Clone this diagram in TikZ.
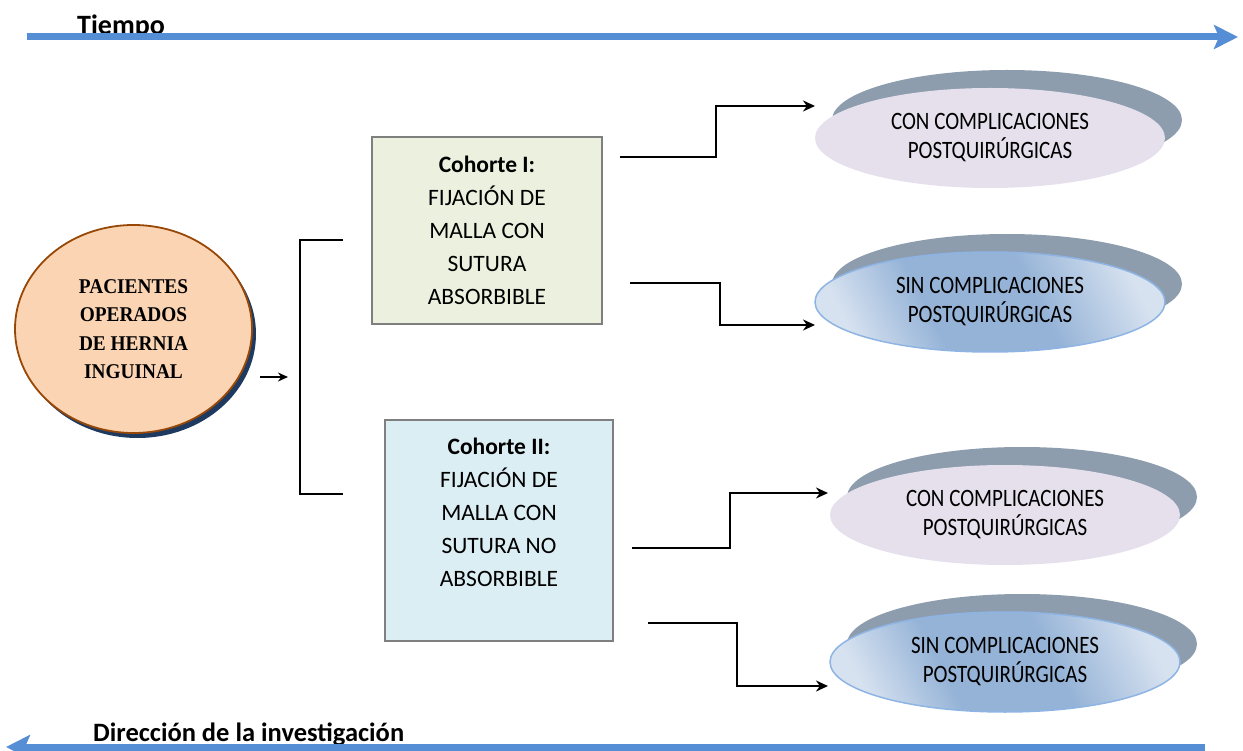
\documentclass[tikz,border=0pt]{standalone}
\usepackage{fontspec}
\setmainfont{Carlito}
\newfontfamily\pacfont[FakeStretch=0.92]{Liberation Serif}
\newfontfamily\outcomefont[FakeStretch=0.84]{Carlito}
\usetikzlibrary{arrows.meta,positioning,shapes.geometric,shadows}
\definecolor{timeblue}{HTML}{558ED5}
\definecolor{pacpeach}{HTML}{FBD4B4}
\definecolor{pacbrown}{HTML}{984806}
\definecolor{pacnavy}{HTML}{1F3A60}
\definecolor{boxgray}{HTML}{7F7F7F}
\definecolor{cohortone}{HTML}{EBF1DE}
\definecolor{cohorttwo}{HTML}{DBEEF4}
\definecolor{conlilac}{HTML}{E5E0EC}
\definecolor{shadowgray}{HTML}{8D9DAE}
\definecolor{sinlight}{HTML}{D7E2F0}
\definecolor{sindark}{HTML}{95B3D7}
\definecolor{sinedge}{HTML}{8EB4E3}
\pgfdeclareverticalshading{sinshade}{100bp}{color(0bp)=(sinlight); color(24bp)=(sinlight); color(39bp)=(sindark); color(58bp)=(sindark); color(76bp)=(sinlight); color(100bp)=(sinlight)}
\tikzset{
  patients/.style={ellipse,draw=pacbrown,line width=1.8pt,fill=pacpeach,minimum width=237pt,minimum height=208pt,inner sep=0pt,align=center,font=\pacfont\bfseries\fontsize{21}{28.5}\selectfont,general shadow={fill=pacnavy,shadow xshift=4pt,shadow yshift=-5pt}},
  cohort/.style={rectangle,draw=boxgray,line width=1.8pt,minimum width=230pt},
  cohorttext/.style={align=center,inner sep=0pt,font=\fontsize{23.5}{33}\selectfont},
  outcome/.style={ellipse,minimum width=350pt,minimum height=100pt,inner sep=0pt,align=center,font=\outcomefont\fontsize{25}{29}\selectfont,general shadow={fill=shadowgray,shadow xshift=17pt,shadow yshift=18pt}},
  withcomp/.style={outcome,fill=conlilac},
  nocomp/.style={outcome,draw=sinedge,line width=1.5pt,shading=sinshade,shading angle=-63},
  arrow/.style={-{Stealth[length=12pt,width=11pt]},line width=2pt,black},
  timearrow/.style={-{Stealth[length=24pt,width=24pt,inset=5pt]},line width=7pt,timeblue},
  axislabel/.style={anchor=base west,inner sep=0pt,font=\bfseries\fontsize{27}{30}\selectfont}
}
\begin{document}
\begin{tikzpicture}[x=1pt,y=-1pt]
  \useasboundingbox (0,0) rectangle (1243,751);
  % time axis
  \node[axislabel,font=\bfseries\fontsize{28}{30}\selectfont] (tiempo) at (77,35) {Tiempo};
  \coordinate (tl) at (27,37);
  \coordinate (tr) at (1238,37);
  \draw[timearrow] (tl) -- (tr);
  % patients
  \node[patients] (pac) at (133.5,329) {PACIENTES\\OPERADOS\\DE HERNIA\\INGUINAL};
  \coordinate (pin) at (260,377);
  \coordinate (pout) at (288,377);
  \draw[arrow,line width=1.6pt,-{Stealth[length=10pt,width=9pt]}] (pin) -- (pout);
  \coordinate (bt) at (343,240);
  \coordinate (bb) at (343,494);
  \draw[line width=1.5pt] (bt) -| (300,367) |- (bb);
  % cohorts
  \node[cohort,fill=cohortone,minimum height=187pt] (c1) at (487,230.5) {};
  \node[cohorttext] (c1t) at (487,230.5) {\textbf{Cohorte I:}\\FIJACIÓN DE\\MALLA CON\\SUTURA\\ABSORBIBLE};
  \node[cohort,fill=cohorttwo,minimum height=221pt,minimum width=228pt] (c2) at (499,530.5) {};
  \node[cohorttext] (c2t) at (499,512.5) {\textbf{Cohorte II:}\\FIJACIÓN DE\\MALLA CON\\SUTURA NO\\ABSORBIBLE};
  % outcomes
  \node[withcomp] (o1) at (990,138) {CON COMPLICACIONES\\POSTQUIRÚRGICAS};
  \node[nocomp] (o2) at (990,302) {SIN COMPLICACIONES\\POSTQUIRÚRGICAS};
  \node[withcomp] (o3) at (1005,515) {CON COMPLICACIONES\\POSTQUIRÚRGICAS};
  \node[nocomp] (o4) at (1005,662) {SIN COMPLICACIONES\\POSTQUIRÚRGICAS};
  % connectors
  \coordinate (s1) at (620,157);
  \coordinate (e1) at (815,106);
  \coordinate (s2) at (630,283);
  \coordinate (e2) at (815,325);
  \coordinate (s3) at (632,548);
  \coordinate (e3) at (828,493);
  \coordinate (s4) at (648,623);
  \coordinate (e4) at (828,686);
  \draw[arrow] (s1) -- ++(96,0) |- (e1);
  \draw[arrow] (s2) -- ++(90,0) |- (e2);
  \draw[arrow] (s3) -- ++(98,0) |- (e3);
  \draw[arrow] (s4) -- ++(89,0) |- (e4);
  % research direction
  \node[axislabel,font=\bfseries\fontsize{26.5}{30}\selectfont] (direccion) at (93,741) {Dirección de la investigación};
  \coordinate (br) at (1205,747);
  \coordinate (bl) at (6,747);
  \draw[timearrow] (br) -- (bl);
\end{tikzpicture}
\end{document}
